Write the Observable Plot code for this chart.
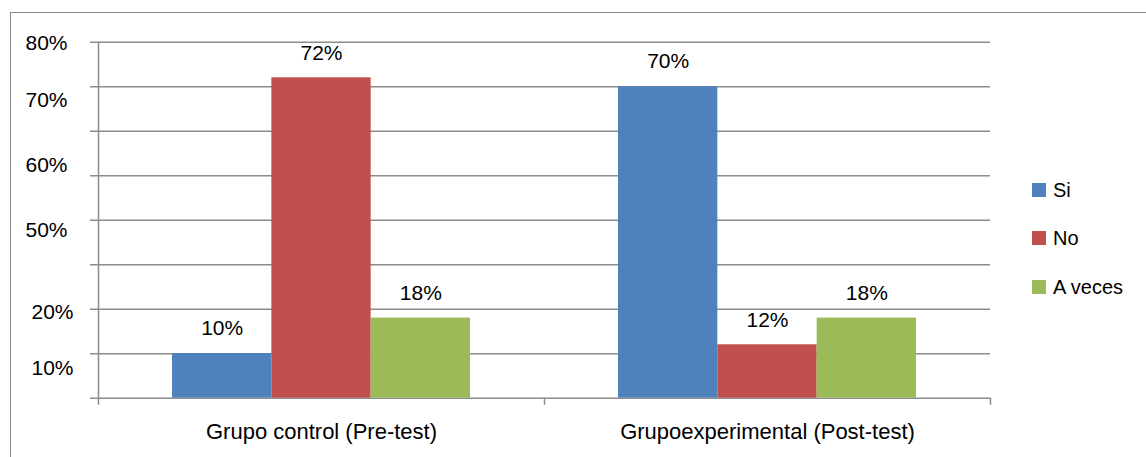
<!DOCTYPE html>
<html><head><meta charset="utf-8">
<script src="https://cdn.jsdelivr.net/npm/d3@7"></script>
<script src="https://cdn.jsdelivr.net/npm/@observablehq/plot@0.6"></script>
<style>
body{margin:0;background:#fff;font-family:"Liberation Sans",Arial,sans-serif;}
#wrap{position:relative;width:1146px;height:457px;overflow:hidden;}
#border{position:absolute;left:10px;top:12px;width:1200px;height:500px;border:1.5px solid #8a8a8a;}
#chart{position:absolute;left:0;top:0;}
.item{position:absolute;left:1032px;height:20px;display:flex;align-items:center;font-size:20px;color:#000;}
.sw{width:14px;height:14px;margin-right:7px;}
</style></head><body>
<div id="wrap"><div id="border"></div><div id="chart"></div><div id="legend"></div></div>
<script>
const groups = ["Grupo control (Pre-test)", "Grupoexperimental (Post-test)"];
const series = ["Si", "No", "A veces"];
const siValues = [10, 70];
const noValues = [72, 12];
const aVecesValues = [18, 18];
const colors = ["#4F81BD", "#C0504D", "#9BBB59"];
const gridTicks = [0, 10, 20, 30, 40, 50, 60, 70, 80];
const yTickLabels = ["80%", "70%", "60%", "50%", "20%", "10%"];
const yTickPositions = [79.8, 66.9, 52.4, 37.8, 19.4, 6.7];

const seriesValues = [siValues, noValues, aVecesValues];
const bw = 0.2227;
const table = [];
groups.forEach((g, gi) => series.forEach((s, si) => {
  const x1 = gi + 0.5 + (si - 1.5) * bw;
  table.push({group: g, series: s, value: seriesValues[si][gi], x1, x2: x1 + bw});
}));
const yTicks = yTickLabels.map((label, i) => ({label, pos: yTickPositions[i], wide: i < 4}));
const grey = "#8c8c8c";

const chart = Plot.plot({
  width: 1146, height: 457,
  marginLeft: 98, marginRight: 156, marginTop: 41.7, marginBottom: 52.2,
  style: {fontFamily: '"Liberation Sans", Arial, sans-serif', background: "transparent", color: "#000"},
  x: {domain: [0, 2], axis: null},
  y: {domain: [-1.6, 80], axis: null},
  color: {domain: series, range: colors},
  marks: [
    Plot.ruleY(gridTicks, {y: d => d, x1: 0, x2: 2, insetLeft: -8, stroke: grey, strokeWidth: 1.5}),
    Plot.ruleX([0], {x: d => d, y1: -1.6, y2: 80, stroke: grey, strokeWidth: 1.5}),
    Plot.ruleX([1, 2], {x: d => d, y1: -1.6, y2: 0, stroke: grey, strokeWidth: 1.5}),
    Plot.rectY(table, {x1: "x1", x2: "x2", y: "value", fill: "series"}),
    Plot.text(table, {x: d => (d.x1 + d.x2) / 2, y: "value", text: d => d.value + "%", dy: -25, fontSize: 21, fill: "#000"}),
    Plot.text(yTicks.filter(d => d.wide), {y: "pos", text: "label", frameAnchor: "left", textAnchor: "end", dx: -31, fontSize: 21, fill: "#000"}),
    Plot.text(yTicks.filter(d => !d.wide), {y: "pos", text: "label", frameAnchor: "left", textAnchor: "end", dx: -25, fontSize: 21, fill: "#000"}),
    Plot.text(groups, {x: (d, i) => i + 0.5, text: d => d, frameAnchor: "bottom", dy: 34, fontSize: 22, fill: "#000"})
  ]
});
document.getElementById("chart").appendChild(chart);

const legend = document.getElementById("legend");
const legendCenters = [190, 238, 287];
series.forEach((s, i) => {
  const it = document.createElement("div");
  it.className = "item";
  it.style.top = (legendCenters[i] - 10) + "px";
  it.innerHTML = `<div class="sw" style="background:${colors[i]}"></div><span>${s}</span>`;
  legend.appendChild(it);
});
</script>
</body></html>
